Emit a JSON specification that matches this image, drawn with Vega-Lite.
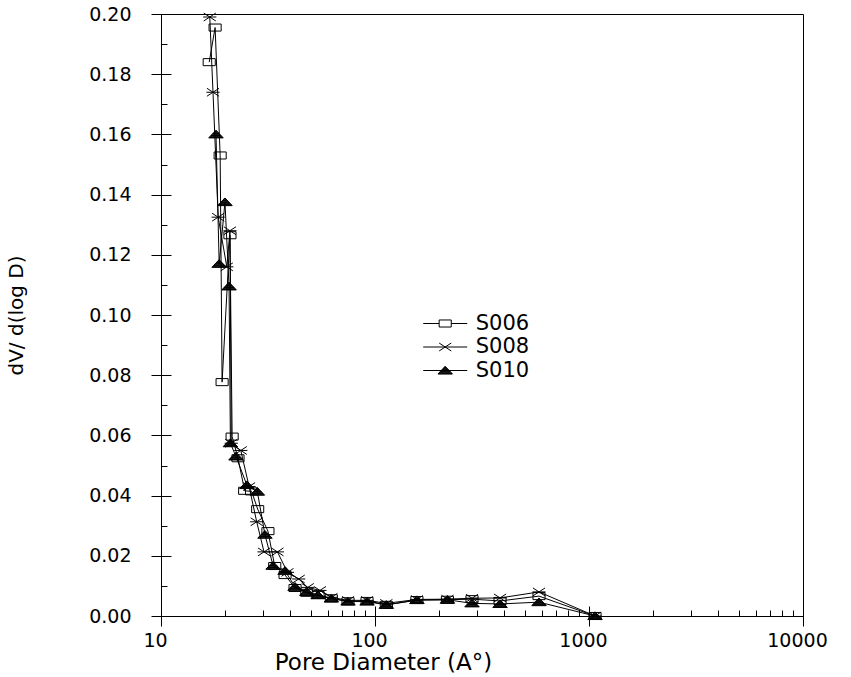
{
  "$schema": "https://vega.github.io/schema/vega-lite/v6.json",
  "width": 642,
  "height": 602,
  "autosize": {"type": "none"},
  "padding": {"left": 161, "top": 14, "right": 48, "bottom": 61},
  "background": "white",
  "config": {
    "view": {"stroke": "black", "strokeWidth": 1},
    "axis": {"domainColor": "black", "tickColor": "black", "labelColor": "black", "titleColor": "black", "grid": false, "labelFont": "DejaVu Sans", "titleFont": "DejaVu Sans", "titleFontWeight": "normal", "domainWidth": 1, "tickWidth": 1}
  },
  "data": {"values": [
    {"series": "S006", "d": 16.8, "v": 0.184},
    {"series": "S006", "d": 17.9, "v": 0.1955},
    {"series": "S006", "d": 18.9, "v": 0.153},
    {"series": "S006", "d": 19.3, "v": 0.0777},
    {"series": "S006", "d": 21.0, "v": 0.1265},
    {"series": "S006", "d": 21.5, "v": 0.0596},
    {"series": "S006", "d": 22.9, "v": 0.0524},
    {"series": "S006", "d": 24.6, "v": 0.0416},
    {"series": "S006", "d": 26.5, "v": 0.0414},
    {"series": "S006", "d": 28.3, "v": 0.0355},
    {"series": "S006", "d": 31.6, "v": 0.0282},
    {"series": "S006", "d": 34.0, "v": 0.0166},
    {"series": "S006", "d": 38.0, "v": 0.0136},
    {"series": "S006", "d": 42.3, "v": 0.0093},
    {"series": "S006", "d": 48.0, "v": 0.0077},
    {"series": "S006", "d": 54.2, "v": 0.0070},
    {"series": "S006", "d": 62.5, "v": 0.0059},
    {"series": "S006", "d": 74.8, "v": 0.0049},
    {"series": "S006", "d": 91.8, "v": 0.0050},
    {"series": "S006", "d": 113, "v": 0.0037},
    {"series": "S006", "d": 157, "v": 0.0053},
    {"series": "S006", "d": 218, "v": 0.0054},
    {"series": "S006", "d": 284, "v": 0.0056},
    {"series": "S006", "d": 384, "v": 0.0050},
    {"series": "S006", "d": 584, "v": 0.0066},
    {"series": "S006", "d": 1067, "v": 0.0},
    {"series": "S008", "d": 16.9, "v": 0.199},
    {"series": "S008", "d": 17.5, "v": 0.174},
    {"series": "S008", "d": 18.5, "v": 0.1325},
    {"series": "S008", "d": 20.3, "v": 0.116},
    {"series": "S008", "d": 21.0, "v": 0.128},
    {"series": "S008", "d": 21.3, "v": 0.0574},
    {"series": "S008", "d": 23.6, "v": 0.0550},
    {"series": "S008", "d": 25.8, "v": 0.0430},
    {"series": "S008", "d": 28.0, "v": 0.0313},
    {"series": "S008", "d": 30.3, "v": 0.0213},
    {"series": "S008", "d": 35.0, "v": 0.0213},
    {"series": "S008", "d": 39.0, "v": 0.0145},
    {"series": "S008", "d": 44.0, "v": 0.0123},
    {"series": "S008", "d": 48.5, "v": 0.0095},
    {"series": "S008", "d": 55.3, "v": 0.0085},
    {"series": "S008", "d": 62.5, "v": 0.0062},
    {"series": "S008", "d": 74.8, "v": 0.0052},
    {"series": "S008", "d": 91.8, "v": 0.0052},
    {"series": "S008", "d": 113, "v": 0.0042},
    {"series": "S008", "d": 157, "v": 0.0055},
    {"series": "S008", "d": 218, "v": 0.0056},
    {"series": "S008", "d": 284, "v": 0.0059},
    {"series": "S008", "d": 384, "v": 0.0060},
    {"series": "S008", "d": 584, "v": 0.0080},
    {"series": "S008", "d": 1067, "v": 0.0},
    {"series": "S010", "d": 18.07, "v": 0.160},
    {"series": "S010", "d": 18.7, "v": 0.117},
    {"series": "S010", "d": 19.9, "v": 0.1375},
    {"series": "S010", "d": 20.8, "v": 0.1095},
    {"series": "S010", "d": 21.1, "v": 0.0574},
    {"series": "S010", "d": 22.4, "v": 0.0530},
    {"series": "S010", "d": 25.2, "v": 0.0435},
    {"series": "S010", "d": 28.2, "v": 0.0413},
    {"series": "S010", "d": 30.6, "v": 0.0270},
    {"series": "S010", "d": 33.4, "v": 0.0167},
    {"series": "S010", "d": 38.0, "v": 0.0150},
    {"series": "S010", "d": 42.3, "v": 0.0097},
    {"series": "S010", "d": 48.0, "v": 0.0080},
    {"series": "S010", "d": 54.2, "v": 0.0069},
    {"series": "S010", "d": 62.5, "v": 0.0058},
    {"series": "S010", "d": 74.8, "v": 0.0048},
    {"series": "S010", "d": 91.8, "v": 0.0048},
    {"series": "S010", "d": 113, "v": 0.0037},
    {"series": "S010", "d": 157, "v": 0.0053},
    {"series": "S010", "d": 218, "v": 0.0054},
    {"series": "S010", "d": 284, "v": 0.0042},
    {"series": "S010", "d": 384, "v": 0.0040},
    {"series": "S010", "d": 584, "v": 0.0046},
    {"series": "S010", "d": 1067, "v": 0.0}
  ]},
  "layer": [
    {
      "mark": {"type": "line", "color": "black", "strokeWidth": 1},
      "encoding": {
        "x": {"field": "d", "type": "quantitative", "scale": {"type": "log", "domain": [10, 10000], "nice": false},
          "axis": {"orient": "bottom", "values": [10, 100, 1000, 10000], "offset": -10, "tickSize": 20, "domain": false, "labelFontSize": 19, "labelPadding": 5, "labelOffset": -6, "labelFlush": false, "format": "d", "title": "Pore Diameter (A°)", "titleFontSize": 23, "titlePadding": 1, "titleX": 222}},
        "y": {"field": "v", "type": "quantitative", "scale": {"domain": [0, 0.2], "nice": false, "zero": false},
          "axis": {"orient": "left", "values": [0, 0.02, 0.04, 0.06, 0.08, 0.1, 0.12, 0.14, 0.16, 0.18, 0.2], "offset": -10, "tickSize": 20, "domain": false, "labelFontSize": 19, "labelPadding": 20, "format": ".2f", "title": "dV/ d(log D)", "titleFontSize": 20, "titlePadding": 62}},
        "detail": {"field": "series"}
      }
    },
    {
      "mark": {"type": "point", "filled": false, "color": "black", "strokeWidth": 1, "size": 484, "opacity": 1},
      "encoding": {
        "x": {"field": "d", "type": "quantitative",
          "axis": {"orient": "bottom", "values": [20, 30, 40, 50, 60, 70, 80, 90, 200, 300, 400, 500, 600, 700, 800, 900, 2000, 3000, 4000, 5000, 6000, 7000, 8000, 9000],
            "offset": -6, "tickSize": 6, "labels": false, "domain": false, "title": null}},
        "y": {"field": "v", "type": "quantitative",
          "axis": {"orient": "left", "values": [0.01, 0.03, 0.05, 0.07, 0.09, 0.11, 0.13, 0.15, 0.17, 0.19],
            "offset": -6, "tickSize": 6, "labels": false, "domain": false, "title": null}},
        "shape": {"field": "series", "type": "nominal",
          "scale": {"domain": ["S006", "S008", "S010"], "range": [
            "M-0.55,-0.32H0.55V0.32H-0.55Z",
            "M-0.55,-0.36L0.55,0.36M-0.55,0.36L0.55,-0.36M-0.6,0H0.6",
            "M0,-0.38L0.66,0.32L-0.66,0.32ZM-0.057,-0.32H0.057M-0.113,-0.26H0.113M-0.17,-0.2H0.17M-0.226,-0.14H0.226M-0.283,-0.08H0.283M-0.34,-0.02H0.34M-0.396,0.04H0.396M-0.453,0.1H0.453M-0.509,0.16H0.509M-0.566,0.22H0.566M-0.623,0.28H0.623"]},
          "legend": null}
      }
    },
    {
      "mark": {"type": "point", "filled": false, "color": "black", "strokeWidth": 1, "size": 484, "opacity": 0},
      "encoding": {
        "x": {"field": "d", "type": "quantitative", "axis": null},
        "y": {"field": "v", "type": "quantitative", "axis": null},
        "shape": {"field": "series", "type": "nominal",
          "scale": {"domain": ["S006", "S008", "S010"], "range": [
            "M-2,0H-0.55M0.55,0H2M-0.55,-0.32H0.55V0.32H-0.55Z",
            "M-2,0H2M-0.55,-0.36L0.55,0.36M-0.55,0.36L0.55,-0.36",
            "M-2,0H2M0,-0.38L0.66,0.32L-0.66,0.32ZM-0.057,-0.32H0.057M-0.113,-0.26H0.113M-0.17,-0.2H0.17M-0.226,-0.14H0.226M-0.283,-0.08H0.283M-0.34,-0.02H0.34M-0.396,0.04H0.396M-0.453,0.1H0.453M-0.509,0.16H0.509M-0.566,0.22H0.566M-0.623,0.28H0.623"]},
          "legend": {"orient": "none", "legendX": 272.7, "legendY": 298, "title": null, "padding": 0, "symbolSize": 484, "symbolOpacity": 1, "symbolStrokeColor": "black", "symbolStrokeWidth": 1, "symbolFillColor": "transparent", "labelFont": "DejaVu Sans", "labelFontSize": 21, "labelColor": "black", "labelOffset": 19, "rowPadding": 1.5}}
      }
    }
  ],
  "resolve": {"axis": {"x": "independent", "y": "independent"}, "scale": {"shape": "independent"}}
}
